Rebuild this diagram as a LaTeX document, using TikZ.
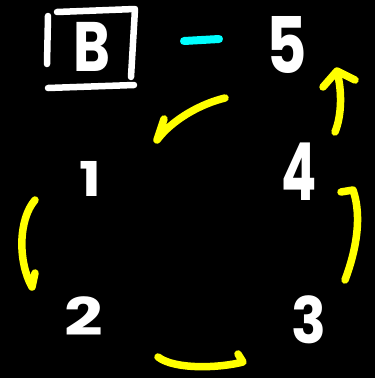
\documentclass[tikz,border=0pt]{standalone}
\usepackage{fontspec}
\setmainfont{Poppins}
\definecolor{chalkyellow}{RGB}{255,255,0}
\definecolor{chalkcyan}{RGB}{0,255,255}
\begin{document}
\begin{tikzpicture}[x=1pt,y=-1pt,
  chalk/.style={white,line width=6.5pt,line cap=round,line join=round},
  yarrow/.style={chalkyellow,line width=7.5pt,line cap=round,line join=round},
  digit/.style={text=white,inner sep=0pt,font=\bfseries}]
\fill[black] (0,0) rectangle (375,378);
\useasboundingbox (0,0) rectangle (375,378);
% boxed B with underline
\node[digit,font=\fontsize{70}{70}\selectfont\bfseries,xscale=0.8] (b) at (92,47) {B};
\draw[chalk] (48,16) -- (47,64);
\draw[chalk] (57,12) -- (135,9) -- (131,77);
\draw[chalk] (48,88) -- (134,85);
% cyan dash
\draw[chalkcyan,line width=8pt,line cap=round] (184,41) -- (219,39);
% digits
\node[digit,font=\fontsize{78}{78}\selectfont\bfseries,xscale=0.8] (n5) at (287,45) {5};
\node[digit,font=\fontsize{48}{48}\selectfont\bfseries,xscale=1.2] (n1) at (90,179) {1};
\node[digit,font=\fontsize{80}{80}\selectfont\bfseries,xscale=0.65] (n4) at (299,172) {4};
\node[digit,font=\fontsize{52}{52}\selectfont\bfseries,xscale=1.3] (n2) at (84,316) {2};
\node[digit,font=\fontsize{64}{64}\selectfont\bfseries,xscale=0.9] (n3) at (309,320) {3};
% yellow arrows
\draw[yarrow] (225,98) .. controls (200,104) and (172,120) .. (157,140) -- (164,119);
\draw[yarrow] (35,200) .. controls (18,220) and (18,262) .. (32,287) -- (35,273);
\draw[yarrow] (158,357) .. controls (175,370) and (220,368) .. (243,362) -- (238,354);
\draw[yarrow] (345,280) .. controls (360,240) and (360,210) .. (353,190) -- (341,192);
\draw[yarrow] (335,132) .. controls (342,115) and (342,90) .. (337,72);
\draw[yarrow] (323,87) -- (337,71) -- (355,80);
\end{tikzpicture}
\end{document}
